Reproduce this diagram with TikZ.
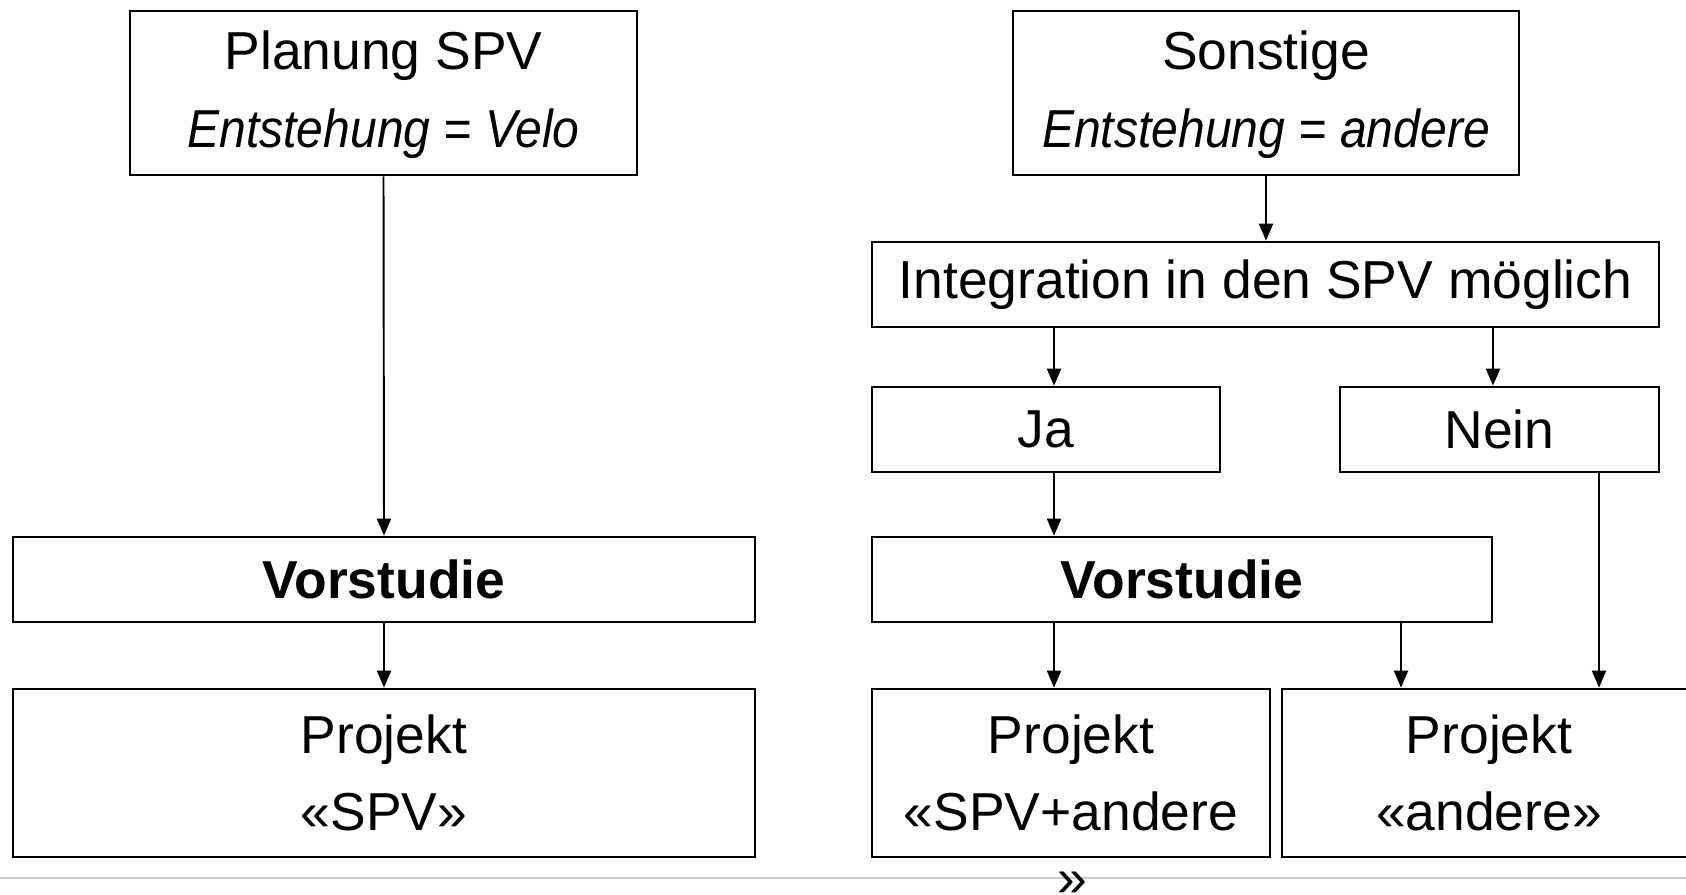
\documentclass[tikz,border=0pt]{standalone}
\usepackage{fontspec}
\setmainfont{Liberation Sans}
\usetikzlibrary{arrows.meta}
\newcommand{\narrowit}[1]{\scalebox{0.9}[1]{\textit{#1}}}
\tikzset{
  txt/.style={font=\fontsize{15.2}{22}\selectfont, inner sep=0pt},
  box/.style={txt, draw=black, line width=0.75pt, rectangle, align=center},
  arr/.style={line width=0.55pt, -{Triangle[length=0.17cm,width=0.14cm]}},
}
\begin{document}
\begin{tikzpicture}
\useasboundingbox (0,0) rectangle (16.86,-8.94);
\clip (0,0) rectangle (16.86,-8.94);
\fill[white] (0,0) rectangle (16.86,-8.94);
\draw[gray!40, line width=0.35pt] (0,-8.78) -- (16.86,-8.78);

\node[box, minimum width=5.07cm, minimum height=1.64cm] (plan) at (3.835,-0.93)
  {\raisebox{-0.03cm}{\begin{tabular}{@{}c@{}}Planung SPV\\\narrowit{Entstehung = Velo}\end{tabular}}};
\node[box, minimum width=7.42cm, minimum height=0.85cm] (vorl) at (3.84,-5.795)
  {\textbf{Vorstudie}};
\node[box, minimum width=7.42cm, minimum height=1.68cm] (projl) at (3.84,-7.73)
  {Projekt\\«SPV»};

\node[box, minimum width=5.06cm, minimum height=1.64cm] (sonst) at (12.66,-0.93)
  {\raisebox{-0.03cm}{\begin{tabular}{@{}c@{}}Sonstige\\\narrowit{Entstehung = andere}\end{tabular}}};
\node[box, minimum width=7.87cm, minimum height=0.85cm] (integ) at (12.655,-2.845)
  {Integration in den SPV möglich};
\node[box, minimum width=3.48cm, minimum height=0.85cm] (ja) at (10.46,-4.295) {Ja};
\node[box, minimum width=3.19cm, minimum height=0.85cm] (nein) at (14.995,-4.295) {Nein};
\node[box, minimum width=6.20cm, minimum height=0.85cm] (vorr) at (11.82,-5.795)
  {\textbf{Vorstudie}};
\node[box, minimum width=3.98cm, minimum height=1.68cm] (projsa) at (10.71,-7.73)
  {Projekt\\«SPV+andere};
\node[txt, anchor=base] (projsaq) at (10.72,-8.96) {»};
\node[box, minimum width=4.14cm, minimum height=1.68cm] (proja) at (14.89,-7.73)
  {Projekt\\«andere»};

\draw[arr] (plan.south) -- (vorl.north);
\draw[arr] (vorl.south) -- (projl.north);
\draw[arr] (sonst.south) -- (integ.north -| sonst.south);
\draw[arr] (integ.south -| 10.54,0) -- (ja.north -| 10.54,0);
\draw[arr] (integ.south -| 14.93,0) -- (nein.north -| 14.93,0);
\draw[arr] (ja.south -| 10.54,0) -- (vorr.north -| 10.54,0);
\draw[arr] (vorr.south -| 10.54,0) -- (projsa.north -| 10.54,0);
\draw[arr] (vorr.south -| 14.01,0) -- (proja.north -| 14.01,0);
\draw[arr] (nein.south -| 15.99,0) -- (proja.north -| 15.99,0);
\end{tikzpicture}
\end{document}
